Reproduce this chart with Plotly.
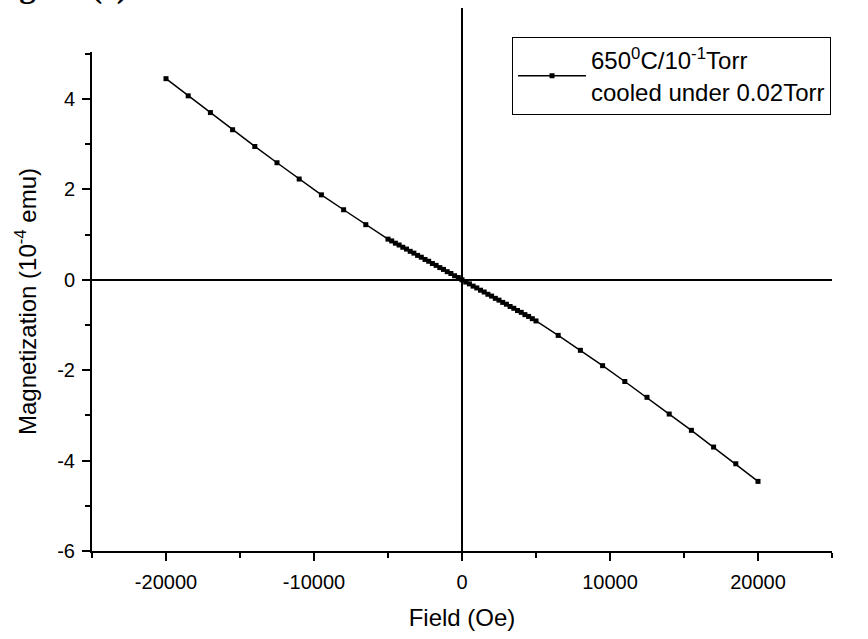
import plotly.graph_objects as go

# Magnetization loop of the film annealed at 650 C / 0.1 Torr, cooled under 0.02 Torr
field_oe = [
    -20000, -18500, -17000, -15500, -14000, -12500, -11000, -9500, -8000, -6500,
    -5000, -4750, -4500, -4250, -4000, -3750, -3500, -3250, -3000, -2750,
    -2500, -2250, -2000, -1750, -1500, -1250, -1000, -750, -500, -250,
    0, 250, 500, 750, 1000, 1250, 1500, 1750, 2000, 2250,
    2500, 2750, 3000, 3250, 3500, 3750, 4000, 4250, 4500, 4750,
    5000, 6500, 8000, 9500, 11000, 12500, 14000, 15500, 17000, 18500, 20000,
]
magnetization = [
    4.45, 4.07, 3.70, 3.32, 2.95, 2.59, 2.23, 1.88, 1.55, 1.22,
    0.90, 0.86, 0.81, 0.77, 0.72, 0.68, 0.63, 0.59, 0.54, 0.50,
    0.45, 0.41, 0.36, 0.32, 0.27, 0.23, 0.18, 0.14, 0.09, 0.05,
    0.00, -0.05, -0.09, -0.14, -0.18, -0.23, -0.27, -0.32, -0.36, -0.41,
    -0.45, -0.50, -0.54, -0.59, -0.63, -0.68, -0.72, -0.77, -0.81, -0.86,
    -0.91, -1.23, -1.56, -1.90, -2.25, -2.60, -2.97, -3.33, -3.70, -4.07, -4.46,
]

x_tick_vals = [-20000, -10000, 0, 10000, 20000]
x_tick_text = ["-20000", "-10000", "0", "10000", "20000"]
y_tick_vals = [-6, -4, -2, 0, 2, 4]
y_tick_text = ["-6", "-4", "-2", "0", "2", "4"]

series_name = "650<sup>0</sup>C/10<sup>-1</sup>Torr<br>cooled under 0.02Torr"

FONT = "Liberation Sans, Arial, sans-serif"

fig = go.Figure()
fig.add_trace(go.Scatter(
    x=field_oe, y=magnetization, mode="lines+markers", name=series_name,
    line=dict(color="black", width=1.5),
    marker=dict(symbol="square", size=5, color="black"),
))

axis_common = dict(
    showline=True, linecolor="black", linewidth=2,
    ticks="outside", ticklen=8, tickwidth=2, tickcolor="black",
    showgrid=False, automargin=False,
    tickfont=dict(family=FONT, size=20, color="black"),
    title_font=dict(family=FONT, size=24, color="black"),
)

fig.update_xaxes(
    range=[-25000, 25000], tickvals=x_tick_vals, ticktext=x_tick_text,
    zeroline=False, ticklabelstandoff=4,
    minor=dict(ticks="outside", ticklen=5, tickwidth=2, tickcolor="black", dtick=5000, tick0=0),
    title_text="Field (Oe)", title_standoff=17,
    **axis_common,
)
fig.update_yaxes(
    range=[-6, 5.04], tickvals=y_tick_vals, ticktext=y_tick_text,
    zeroline=True, zerolinecolor="black", zerolinewidth=2,
    ticklabelstandoff=3,
    minor=dict(ticks="outside", ticklen=5, tickwidth=2, tickcolor="black", dtick=1, tick0=0),
    title_text="Magnetization (10<sup>-4</sup> emu)", title_standoff=14,
    **axis_common,
)

# vertical axis through zero field, running up past the plot top
fig.add_shape(type="line", xref="x", yref="paper", x0=0, x1=0, y0=0, y1=1.088,
              line=dict(color="black", width=2))

fig.add_annotation(text="<b>Figure (c)</b>", xref="paper", yref="paper",
                   x=-0.14, y=1.09, xanchor="left", yanchor="bottom", showarrow=False,
                   font=dict(family="Liberation Serif, Times New Roman, serif", size=33, color="black"))

fig.update_layout(
    width=868, height=639,
    margin=dict(l=92, r=36, t=52, b=88),
    plot_bgcolor="white", paper_bgcolor="white",
    showlegend=True,
    legend=dict(x=0.5676, y=1.03, xanchor="left", yanchor="top",
                bordercolor="black", borderwidth=1, bgcolor="white",
                itemwidth=68,
                font=dict(family=FONT, size=24, color="black")),
)

fig.write_html("out.html")
